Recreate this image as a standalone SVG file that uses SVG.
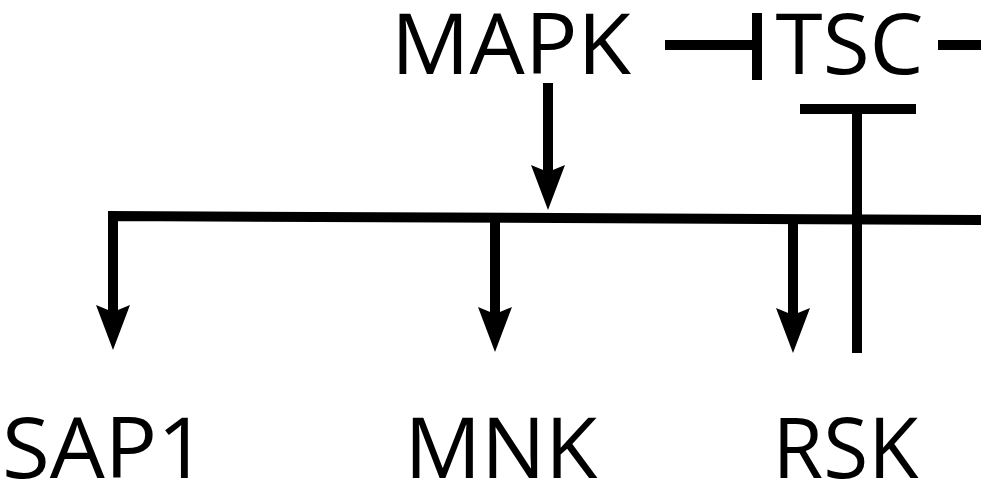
<svg xmlns="http://www.w3.org/2000/svg" width="981" height="485" viewBox="0 0 981 485">
<style>
.lbl{font-family:"Open Sans","Liberation Sans",sans-serif;font-size:85px;fill:#000;text-anchor:middle;}
.ln{stroke:#000;stroke-width:10;fill:none;stroke-linejoin:miter;stroke-linecap:butt;}
</style>
<defs>
<marker id="ah" markerUnits="userSpaceOnUse" orient="auto" refX="0" refY="0" markerWidth="60" markerHeight="60" viewBox="-10 -20 60 40" overflow="visible">
<path d="M38,0 L-7,-17 L0,0 L-7,17 Z" fill="#000"/>
</marker>
</defs>
<g id="MAPK"><text class="lbl" x="511" y="74" textLength="240" lengthAdjust="spacingAndGlyphs">MAPK</text></g>
<g id="TSC"><text class="lbl" x="849.5" y="74" textLength="148" lengthAdjust="spacingAndGlyphs">TSC</text></g>
<g id="SAP1"><text class="lbl" x="104.5" y="478" textLength="205" lengthAdjust="spacingAndGlyphs">SAP1</text></g>
<g id="MNK"><text class="lbl" x="501" y="478" textLength="193" lengthAdjust="spacingAndGlyphs">MNK</text></g>
<g id="RSK"><text class="lbl" x="845.5" y="478" textLength="146" lengthAdjust="spacingAndGlyphs">RSK</text></g>
<g id="connectors">
<path class="ln" d="M665,45 L757,45"/>
<path class="ln" d="M757,13 L757,80"/>
<path class="ln" d="M938,45 L981,45"/>
<path class="ln" d="M548,83 L548,172" marker-end="url(#ah)"/>
<path class="ln" d="M981,220 L113,216 L113,312" marker-end="url(#ah)"/>
<path class="ln" d="M495,218 L495,314" marker-end="url(#ah)"/>
<path class="ln" d="M793,219 L793,315" marker-end="url(#ah)"/>
<path class="ln" d="M800,109 L916,109"/>
<path class="ln" d="M857,109 L857,353"/>
</g>
</svg>
